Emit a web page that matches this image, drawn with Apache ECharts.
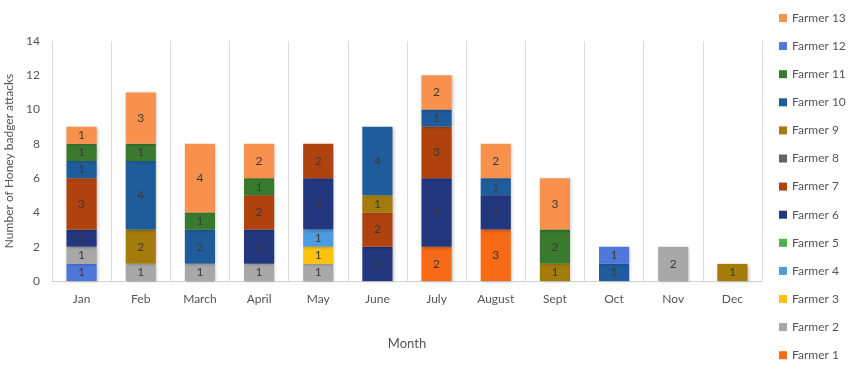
<!DOCTYPE html>
<html>
<head>
<meta charset="utf-8">
<script src="https://cdn.jsdelivr.net/npm/echarts@6/dist/echarts.min.js"></script>
<style>html,body{margin:0;padding:0;background:#fff}#c{width:850px;height:372px}</style>
</head>
<body>
<div id="c"></div>
<script>
var months = ['Jan','Feb','March','April','May','June','July','August','Sept','Oct','Nov','Dec'];
var yTicks = [0, 2, 4, 6, 8, 10, 12, 14];
// values per farmer, Jan..Dec
var farmer1  = [0,0,0,0,0,0,2,3,0,0,0,0];
var farmer2  = [1,1,1,1,1,0,0,0,0,0,2,0];
var farmer3  = [0,0,0,0,1,0,0,0,0,0,0,0];
var farmer4  = [0,0,0,0,1,0,0,0,0,0,0,0];
var farmer5  = [0,0,0,0,0,0,0,0,0,0,0,0];
var farmer6  = [1,0,0,2,3,2,4,2,0,0,0,0];
var farmer7  = [3,0,0,2,2,2,3,0,0,0,0,0];
var farmer8  = [0,0,0,0,0,0,0,0,0,0,0,0];
var farmer9  = [0,2,0,0,0,1,0,0,1,0,0,1];
var farmer10 = [1,4,2,0,0,4,1,1,0,1,0,0];
var farmer11 = [1,1,1,1,0,0,0,0,2,0,0,0];
var farmer12 = [0,0,0,0,0,0,0,0,0,1,0,0];
var farmer12Base = [1,0,0,0,0,0,0,0,0,0,0,0]; // Jan segment drawn at the bottom of the stack
var farmer13 = [1,3,4,2,0,0,2,2,3,0,0,0];

var names = ['Farmer 1','Farmer 2','Farmer 3','Farmer 4','Farmer 5','Farmer 6','Farmer 7','Farmer 8','Farmer 9','Farmer 10','Farmer 11','Farmer 12','Farmer 13'];
var colors = ['#F86A16','#A8A8A8','#FFC20E','#4E9CE0','#4FB04A','#23377F','#B0420F','#646464','#A47C0C','#1F5C9C','#3A7A2F','#4F78DA','#F8904E'];
var values = [farmer1,farmer2,farmer3,farmer4,farmer5,farmer6,farmer7,farmer8,farmer9,farmer10,farmer11,farmer12,farmer13];

function mk(name, data, color){
  return {
    name: name, type: 'bar', stack: 'a', data: data.map(function(v){return v===0?null:v;}),
    barWidth: '51%',
    itemStyle: {color: color, shadowColor: 'rgba(0,0,0,0.25)', shadowBlur: 3, shadowOffsetX: 1, shadowOffsetY: 1},
    label: {show: true, position: 'inside', color: '#3a3a3a', fontSize: 12, fontFamily: 'Lato'},
    emphasis: {disabled: true}
  };
}
var series = [mk('Farmer 12', farmer12Base, colors[11])];
for (var i = 0; i < names.length; i++) series.push(mk(names[i], values[i], colors[i]));

var legendNames = names.slice().reverse();

var chart = echarts.init(document.getElementById('c'), null, {renderer: 'canvas'});
chart.setOption({
  animation: false,
  color: colors,
  textStyle: {fontFamily: 'Lato'},
  grid: {left: 52, right: 88, top: 41, bottom: 91, containLabel: false, outerBoundsMode: 'none'},
  legend: {
    orient: 'vertical', left: 774, top: 7, itemGap: 16.1,
    itemWidth: 8, itemHeight: 8, icon: 'rect',
    data: legendNames,
    textStyle: {fontSize: 12, color: '#555', fontFamily: 'Lato'}
  },
  xAxis: {
    type: 'category', data: months,
    name: 'Month', nameLocation: 'middle', nameGap: 56,
    nameTextStyle: {fontSize: 13, color: '#555'},
    axisLine: {lineStyle: {color: '#d0d0d0'}},
    axisTick: {show: false},
    axisLabel: {fontSize: 12, color: '#555', margin: 12},
    splitLine: {show: true, lineStyle: {color: '#dcdcdc'}}
  },
  yAxis: {
    type: 'value', min: yTicks[0], max: yTicks[yTicks.length-1], interval: 2,
    name: 'Number of Honey badger attacks', nameLocation: 'middle', nameGap: 37,
    nameTextStyle: {fontSize: 12, color: '#555'},
    axisLine: {show: false}, axisTick: {show: false},
    axisLabel: {fontSize: 12, color: '#555', margin: 12},
    splitLine: {show: false}
  },
  series: series
});
</script>
</body>
</html>
